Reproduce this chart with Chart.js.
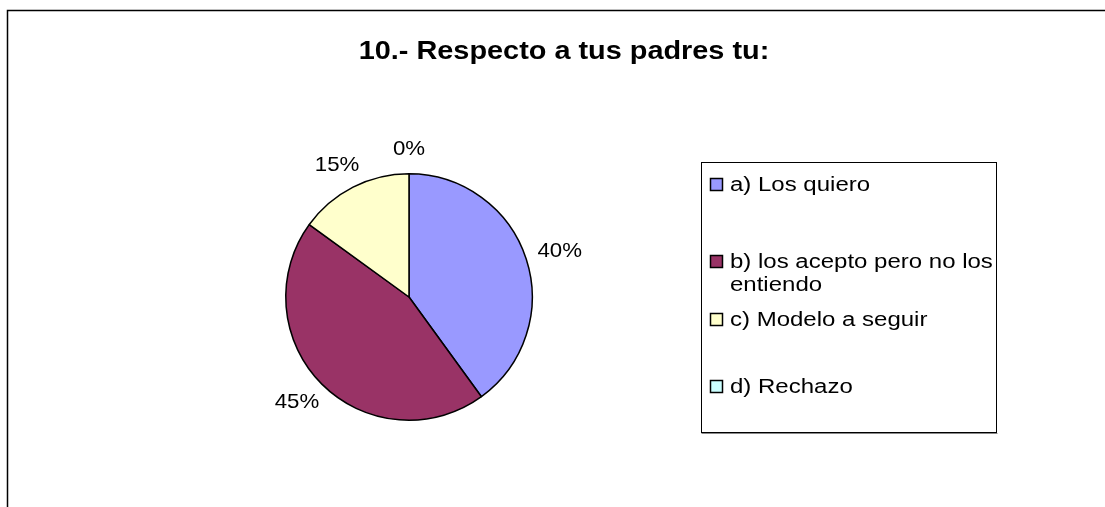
<!DOCTYPE html>
<html>
<head>
<meta charset="utf-8">
<script src="https://cdn.jsdelivr.net/npm/chart.js@4.4.1/dist/chart.umd.min.js"></script>
<style>
  body { margin: 0; background: #fff; }
  canvas { display: block; }
</style>
</head>
<body>
<canvas id="pieChart" width="1105" height="507"></canvas>
<script>
const chartTitle = '10.- Respecto a tus padres tu:';
const categories = ['a) Los quiero', 'b) los acepto pero no los entiendo', 'c) Modelo a seguir', 'd) Rechazo'];
const percentages = [40, 45, 15, 0];
const sliceColors = ['#9999FF', '#993366', '#FFFFCC', '#CCFFFF'];

const FONT = '"Liberation Sans", Arial, sans-serif';

// text in the reference is a bit wider than plain Arial, so stretch it sideways
function stretchedText(ctx, text, x, y, align, sx) {
  const w = ctx.measureText(text).width * sx;
  let left = x;
  if (align === 'center') left = x - w / 2;
  if (align === 'right') left = x - w;
  ctx.save();
  ctx.translate(left, y);
  ctx.scale(sx, 1);
  ctx.textAlign = 'left';
  ctx.fillText(text, 0, 0);
  ctx.restore();
  return w;
}

const framePlugin = {
  id: 'frame',
  beforeDraw(chart) {
    const ctx = chart.ctx;
    ctx.save();
    ctx.fillStyle = '#fff';
    ctx.fillRect(0, 0, chart.width, chart.height);
    // outer chart border (runs off the right and bottom of the picture)
    ctx.strokeStyle = '#000';
    ctx.lineWidth = 1.5;
    ctx.beginPath();
    ctx.moveTo(7.5, chart.height + 2);
    ctx.lineTo(7.5, 10.5);
    ctx.lineTo(chart.width + 2, 10.5);
    ctx.stroke();
    // title
    ctx.fillStyle = '#000';
    ctx.font = 'bold 26px ' + FONT;
    ctx.textBaseline = 'middle';
    stretchedText(ctx, chartTitle, 564, 52, 'center', 1.11);
    ctx.restore();
  }
};

const pieLabelPlugin = {
  id: 'pieLabels',
  afterDatasetsDraw(chart) {
    const ctx = chart.ctx;
    const meta = chart.getDatasetMeta(0);
    const values = chart.data.datasets[0].data;
    const total = values.reduce((a, b) => a + b, 0);
    ctx.save();
    ctx.fillStyle = '#000';
    ctx.font = '21px ' + FONT;
    ctx.textBaseline = 'middle';
    meta.data.forEach((arc, i) => {
      const p = arc.getProps(['x', 'y', 'startAngle', 'endAngle', 'outerRadius'], true);
      const mid = (p.startAngle + p.endAngle) / 2;
      const text = Math.round(values[i] / total * 100) + '%';
      const sx = 1.06;
      const hw = ctx.measureText(text).width * sx / 2;
      const hh = 12;
      const d = p.outerRadius + 13;
      const cx = p.x + Math.cos(mid) * (d + hw);
      const cy = p.y + Math.sin(mid) * (d + hh);
      stretchedText(ctx, text, cx, cy, 'center', sx);
    });
    ctx.restore();
  }
};

const boxLegendPlugin = {
  id: 'boxLegend',
  afterDraw(chart) {
    const ctx = chart.ctx;
    const labels = chart.data.labels;
    const colors = chart.data.datasets[0].backgroundColor;
    const box = { x: 701.5, y: 162.5, w: 295, h: 270 };
    const rowY = [185, 262, 320, 387];
    const sx = 1.2;
    const maxTextW = 265;
    ctx.save();
    ctx.fillStyle = '#fff';
    ctx.fillRect(box.x, box.y, box.w, box.h);
    ctx.strokeStyle = '#000';
    ctx.lineWidth = 1;
    ctx.strokeRect(box.x, box.y, box.w, box.h);
    ctx.strokeStyle = '#888';
    ctx.beginPath();
    ctx.moveTo(box.x, box.y + box.h + 1);
    ctx.lineTo(box.x + box.w + 1, box.y + box.h + 1);
    ctx.stroke();
    ctx.font = '20px ' + FONT;
    ctx.textBaseline = 'middle';
    labels.forEach((label, i) => {
      const y = rowY[i];
      ctx.fillStyle = colors[i];
      ctx.fillRect(710.5, y - 6.5, 12, 12);
      ctx.strokeStyle = '#000';
      ctx.lineWidth = 1.5;
      ctx.strokeRect(710.5, y - 6.5, 12, 12);
      // wrap long labels like the reference does
      const words = label.split(' ');
      const lines = [];
      let line = '';
      words.forEach(w => {
        const test = line ? line + ' ' + w : w;
        if (ctx.measureText(test).width * sx > maxTextW && line) {
          lines.push(line);
          line = w;
        } else {
          line = test;
        }
      });
      lines.push(line);
      ctx.fillStyle = '#000';
      lines.forEach((l, k) => stretchedText(ctx, l, 730, y + k * 23, 'left', sx));
    });
    ctx.restore();
  }
};

new Chart(document.getElementById('pieChart'), {
  type: 'pie',
  data: {
    labels: categories,
    datasets: [{
      data: percentages,
      backgroundColor: sliceColors,
      borderColor: '#000',
      borderWidth: 1.5
    }]
  },
  options: {
    responsive: false,
    animation: false,
    layout: {
      padding: { left: 285, right: 572, top: 173, bottom: 86 }
    },
    plugins: {
      legend: { display: false },
      title: { display: false },
      tooltip: { enabled: false }
    }
  },
  plugins: [framePlugin, pieLabelPlugin, boxLegendPlugin]
});
</script>
</body>
</html>
